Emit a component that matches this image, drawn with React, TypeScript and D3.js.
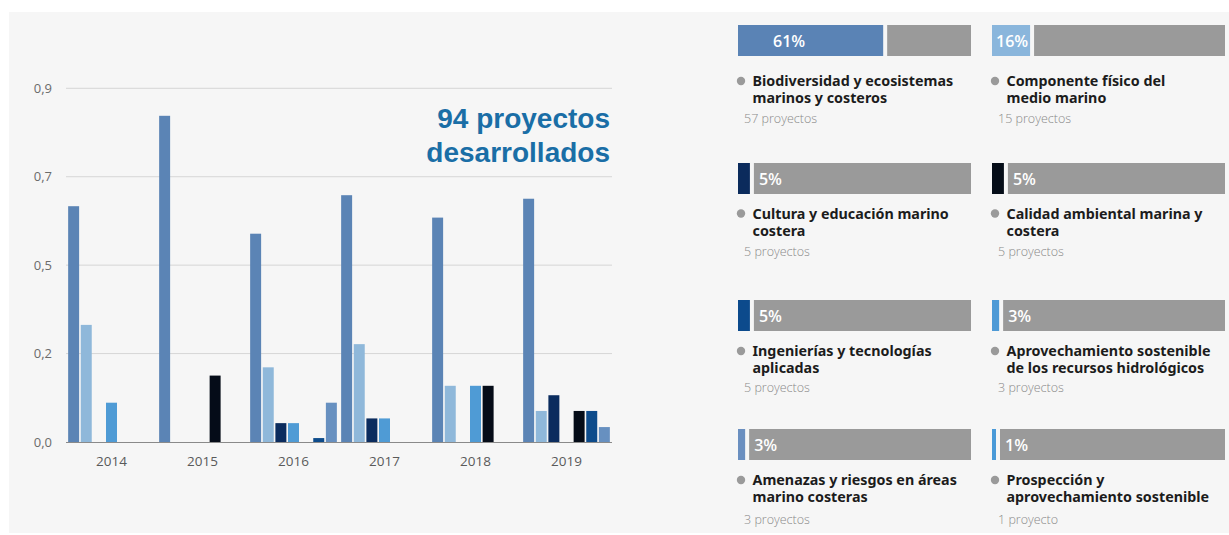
import React from 'react';
import * as d3 from 'd3';

// ---------- DATA ----------
const years = ['2014', '2015', '2016', '2017', '2018', '2019'];

const seriesKeys = ['biodiversidad', 'componente', 'cultura', 'aprovechamiento', 'calidad', 'ingenierias', 'amenazas'];
const seriesColors = ['#5b84b5', '#8fb8da', '#0b2c5e', '#4f9bd5', '#050c18', '#0d4b8b', '#6790c0'];

const biodiversidad = [0.6, 0.83, 0.53, 0.628, 0.571, 0.619];
const componente = [0.298, 0, 0.19, 0.249, 0.143, 0.079];
const cultura = [0, 0, 0.048, 0.06, 0, 0.119];
const aprovechamiento = [0.1, 0, 0.048, 0.06, 0.143, 0];
const calidad = [0, 0.169, 0, 0, 0.143, 0.079];
const ingenierias = [0, 0, 0.01, 0, 0, 0.079];
const amenazas = [0, 0, 0.1, 0, 0, 0.038];

const seriesValues = [biodiversidad, componente, cultura, aprovechamiento, calidad, ingenierias, amenazas];

const yTicks = [0, 0.225, 0.45, 0.675, 0.9];

const titleLines = ['94 proyectos', 'desarrollados'];

const legendTitles = [
  ['Biodiversidad y ecosistemas', 'marinos y costeros'],
  ['Componente físico del', 'medio marino'],
  ['Cultura y educación marino', 'costera'],
  ['Calidad ambiental marina y', 'costera'],
  ['Ingenierías y tecnologías', 'aplicadas'],
  ['Aprovechamiento sostenible', 'de los recursos hidrológicos'],
  ['Amenazas y riesgos en áreas', 'marino costeras'],
  ['Prospección y', 'aprovechamiento sostenible'],
];
const legendPct = [61, 16, 5, 5, 5, 3, 3, 1];
const legendCounts = ['57 proyectos', '15 proyectos', '5 proyectos', '5 proyectos', '5 proyectos', '3 proyectos', '3 proyectos', '1 proyecto'];
const legendColors = ['#5a83b5', '#8ab6dc', '#0b2b5c', '#050d18', '#0c4a8c', '#4e9ad6', '#6a8fc0', '#4a9ad8'];

// ---------- LAYOUT ----------
const W = 1229;
const H = 535;
const plot = { left: 66, right: 612, top: 88.3, bottom: 442 };
const colX = [738, 992];
const rowLayout = [
  { bar: 25, t1: 86, t2: 103, sub: 123 },
  { bar: 163, t1: 218.5, t2: 235.5, sub: 256 },
  { bar: 300, t1: 356, t2: 373, sub: 392 },
  { bar: 429, t1: 485, t2: 502, sub: 524 },
];
const barTotalW = 233;
const barH = 31;

export default function App() {
  const x0 = d3.scaleBand<string>().domain(years).range([plot.left, plot.right]).paddingInner(0).paddingOuter(0);
  const x1 = d3
    .scaleBand<string>()
    .domain(seriesKeys)
    .range([0, x0.bandwidth()])
    .paddingInner(0.13)
    .paddingOuter(0.17);
  const y = d3.scaleLinear().domain([0, 0.9]).range([plot.bottom, plot.top]);
  const fmt = (v: number) => d3.format('.1f')(v).replace('.', ',');

  const pctScale = d3.scaleLinear().domain([0, 100]).range([0, 238]);

  return (
    <svg
      width={W}
      height={H}
      style={{ position: 'absolute', left: 0, top: 0, display: 'block' }}
      xmlns="http://www.w3.org/2000/svg"
    >
      <rect x={0} y={0} width={W} height={H} fill="#ffffff" />
      <rect x={9} y={12} width={W - 9} height={H - 14} fill="#f6f6f6" />

      {/* grid */}
      {yTicks.map((t, i) => (
        <g key={'g' + i}>
          {t > 0 && (
            <line x1={plot.left} x2={plot.right} y1={y(t)} y2={y(t)} stroke="#d6d6d6" strokeWidth={1} />
          )}
          <text
            x={52}
            y={y(t) + 4.5}
            textAnchor="end"
            fontFamily="'Open Sans', sans-serif"
            fontSize={13}
            fill="#6b6b6b"
          >
            {fmt(t)}
          </text>
        </g>
      ))}

      {/* bars */}
      {years.map((yr, yi) => (
        <g key={yr} transform={`translate(${x0(yr)},0)`}>
          {seriesKeys.map((k, si) => {
            const v = seriesValues[si][yi];
            if (!v) return null;
            return (
              <rect
                key={k}
                x={x1(k)}
                y={y(v)}
                width={x1.bandwidth()}
                height={y(0) - y(v)}
                fill={seriesColors[si]}
              />
            );
          })}
        </g>
      ))}

      {/* baseline */}
      <line x1={plot.left} x2={plot.right} y1={y(0) + 0.5} y2={y(0) + 0.5} stroke="#8a8a8a" strokeWidth={1.2} />

      {/* x labels */}
      {years.map((yr) => (
        <text
          key={'xl' + yr}
          x={(x0(yr) as number) + x0.bandwidth() / 2}
          y={466}
          textAnchor="middle"
          fontFamily="'Open Sans', sans-serif"
          fontSize={13.5}
          fill="#5a5a5a"
        >
          {yr}
        </text>
      ))}

      {/* title */}
      {titleLines.map((l, i) => (
        <text
          key={'t' + i}
          x={610}
          y={128 + i * 34}
          textAnchor="end"
          fontFamily="'Liberation Sans', Arial, sans-serif"
          fontWeight={700}
          fontSize={28}
          fill="#1a6ea6"
        >
          {l}
        </text>
      ))}

      {/* legend panels */}
      {legendTitles.map((lines, i) => {
        const col = i % 2;
        const row = Math.floor(i / 2);
        const r = rowLayout[row];
        const cx = colX[col];
        const cw = Math.max(4, pctScale(legendPct[i]));
        const grayStart = cx + cw + 4;
        const labelX = cw > 100 ? cx + 35 : cw > 30 ? cx + 4 : grayStart + 5;
        return (
          <g key={'lg' + i}>
            <rect x={cx} y={r.bar} width={cw} height={barH} fill={legendColors[i]} />
            <rect x={grayStart} y={r.bar} width={cx + barTotalW - grayStart} height={barH} fill="#9a9a9a" />
            <text
              x={labelX}
              y={r.bar + 22}
              fontFamily="'Open Sans', sans-serif"
              fontWeight={600}
              fontSize={16}
              fill="#ffffff"
            >
              {legendPct[i]}%
            </text>
            <circle cx={cx + 3} cy={r.t1 - 5} r={4.2} fill="#9a9a9a" />
            {lines.map((ln, li) => (
              <text
                key={li}
                x={cx + 14.5}
                y={li === 0 ? r.t1 : r.t2}
                fontFamily="'Noto Sans', sans-serif"
                fontWeight={700}
                fontSize={14.3}
                fill="#1c1c1c"
              >
                {ln}
              </text>
            ))}
            <text
              x={cx + 6}
              y={r.sub}
              fontFamily="'Open Sans', sans-serif"
              fontWeight={300}
              fontSize={12.5}
              fill="#8a8a8a"
            >
              {legendCounts[i]}
            </text>
          </g>
        );
      })}
    </svg>
  );
}
